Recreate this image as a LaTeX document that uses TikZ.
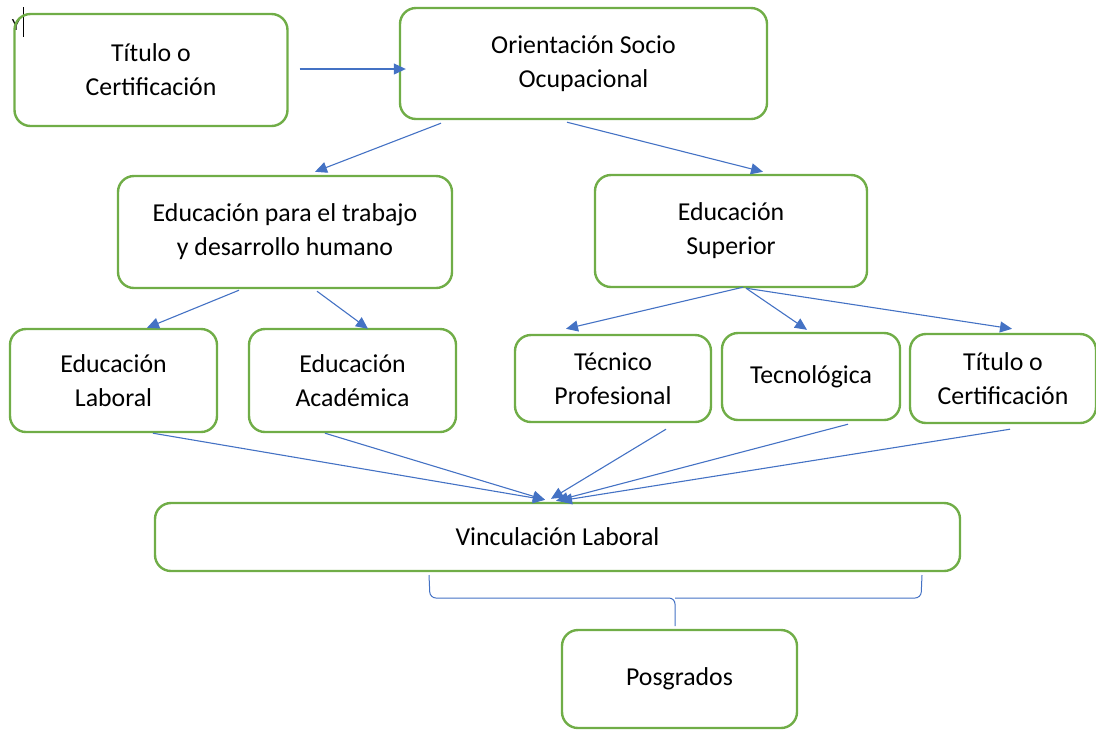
\documentclass[tikz,border=0pt]{standalone}
\usepackage{fontspec}
\setmainfont{Carlito}
\usetikzlibrary{arrows.meta,calc}
\definecolor{boxgreen}{RGB}{112,173,71}
\definecolor{linkblue}{RGB}{68,114,196}

\begin{document}
\begin{tikzpicture}[x=0.5pt,y=-0.5pt,font=\fontsize{12.9}{17}\selectfont,
  box/.style={draw=boxgreen,line width=1.2pt,rounded corners=8pt,align=center,inner sep=0pt},
  link/.style={draw=linkblue,line width=0.55pt,-{Triangle[length=6pt,width=5.5pt]}}]
\useasboundingbox (0,0) rectangle (1096,730);
\node[font=\fontsize{8.5}{8.5}\selectfont,inner sep=0pt] (cursor) at (16,25) {Y};
\draw[line width=0.5pt] (23,7)--(23,37);
% first row
\node[box,minimum width=136.5pt,minimum height=56pt] (tit1) at (151,70) {Título o\\Certificación};
\node[box,minimum width=183.5pt,minimum height=55.5pt] (orient) at (583.5,63.5) {Orientación Socio\\Ocupacional};
% second row
\node[box,minimum width=167pt,minimum height=56pt] (trab) at (285,232) {Educación para el trabajo\\y desarrollo humano};
\node[box,minimum width=136pt,minimum height=56pt] (sup) at (731,231) {Educación\\Superior};
% third row
\node[box,minimum width=103.5pt,minimum height=51.5pt] (lab) at (113.5,380.5) {Educación\\Laboral};
\node[box,minimum width=103.5pt,minimum height=51.5pt] (acad) at (352.5,380.5) {Educación\\Académica};
\node[box,minimum width=98pt,minimum height=43.5pt] (tec) at (613,378.5) {Técnico\\Profesional};
\node[box,minimum width=89pt,minimum height=43.5pt] (tecn) at (811,376.5) {Tecnológica};
\node[box,minimum width=93pt,minimum height=44.5pt] (tit2) at (1003,378.5) {Título o\\Certificación};
% bottom
\node[box,minimum width=402.5pt,minimum height=34pt] (vinc) at (557.5,537) {Vinculación Laboral};
\node[box,minimum width=117.5pt,minimum height=49pt] (posg) at (679.5,679) {Posgrados};

\draw[link] ($(tit1.east)+(11,-1)$)--($(orient.west)+(7,5.5)$);
\draw[link] ($(orient.south)+(-142.5,3)$)--($(trab.north)+(30,-3)$);
\draw[link] ($(orient.south)+(-16.5,2)$)--($(sup.north)+(32,-2)$);
\draw[link] ($(trab.south)+(-46,1)$)--($(lab.north)+(33.5,0)$);
\draw[link] ($(trab.south)+(32,2)$)--($(acad.north)+(15.5,1)$);
\draw[link] ($(sup.south)+(12,-1)$)--($(tec.north)+(-47,-5)$);
\draw[link] ($(sup.south)+(15,0)$)--($(tecn.north)+(-4,-2)$);
\draw[link] ($(sup.south)+(15,0)$)--($(tit2.north)+(9,-4)$);
\draw[link] ($(lab.south)+(39.5,0)$)--($(vinc.north)+(-12.5,-2)$);
\draw[link] ($(acad.south)+(-27.5,0)$)--($(vinc.north)+(-12.5,-2)$);
\draw[link] ($(tec.south)+(53,6)$)--($(vinc.north)+(-6.5,-3)$);
\draw[link] ($(tecn.south)+(37,3)$)--($(vinc.north)+(-1.5,-1)$);
\draw[link] ($(tit2.south)+(7,5)$)--($(vinc.north)+(2.5,-1)$);
% brace
\draw[linkblue,line width=0.5pt,rounded corners=3pt] (429,575)--(430,598)--(675,598)--(675,626);
\draw[linkblue,line width=0.5pt,rounded corners=3pt] (922,575)--(921,598)--(675,598);
\end{tikzpicture}
\end{document}
